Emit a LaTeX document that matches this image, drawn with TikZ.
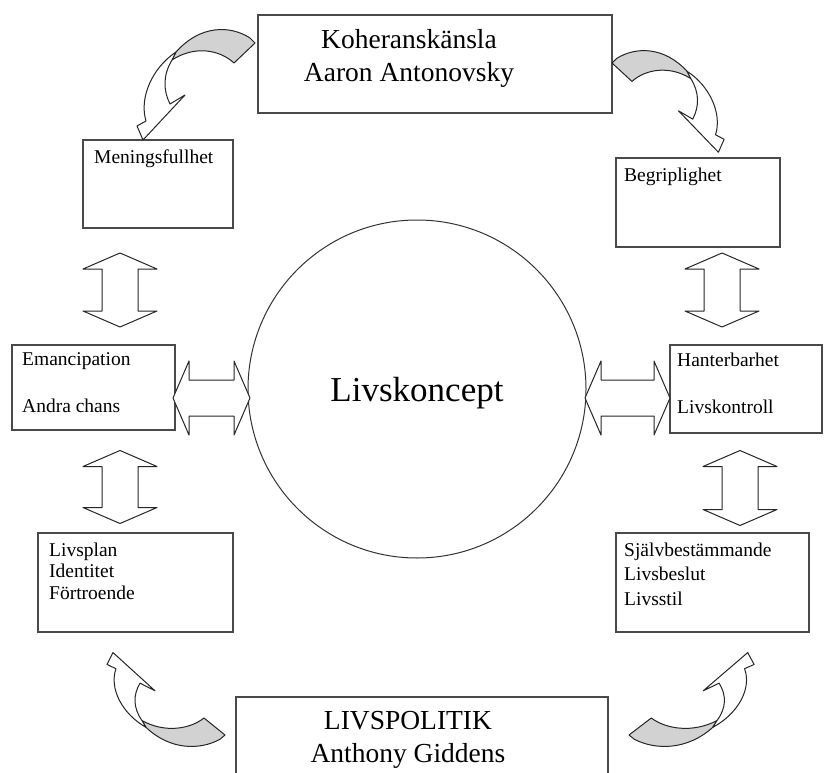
\documentclass[tikz,border=0pt]{standalone}
\usepackage{fontspec}
\setmainfont{Liberation Serif}
\usetikzlibrary{calc}
\definecolor{boxgray}{HTML}{4A4A4A}
\definecolor{ribbongray}{HTML}{D2D2D2}

\tikzset{
  box/.style={draw=boxgray, line width=2pt, fill=white, inner sep=0pt},
  smalltxt/.style={anchor=north west, align=left, inner sep=0pt,
    font=\fontsize{19.5}{23}\selectfont},
  bigtxt/.style={align=center, inner sep=0pt, font=\fontsize{27.5}{33}\selectfont},
  arrline/.style={draw=black!85, line width=1pt, fill=white, line join=round},
  pics/dblarr/.style={code={
    \draw[arrline] (-#1,0) -- ({16-#1},-37) -- ({16-#1},-18) -- ({#1-16},-18)
      -- ({#1-16},-37) -- (#1,0) -- ({#1-16},37) -- ({#1-16},18)
      -- ({16-#1},18) -- ({16-#1},37) -- cycle;}},
  pics/curvarr/.style={code={
    \draw[arrline, fill=ribbongray] (0,0) -- (-5,-5) .. controls (-25,-18) and (-55,-18) .. (-79,9)
      -- (-83,17) .. controls (-60,2) and (-35,7) .. (-21,20) -- cycle;
    \draw[arrline] (-79,9) .. controls (-103,25) and (-116,55) .. (-109,78) -- (-118,83)
      -- (-112,97) -- (-70,52) -- (-85,61) .. controls (-92,47) and (-92,32) .. (-83,17) -- cycle;}}
}

\begin{document}
\begin{tikzpicture}[x=1pt,y=-1pt]
  \useasboundingbox[fill=white] (0,0) rectangle (824,773);

  % boxes
  \node[box, minimum width=354, minimum height=98] (koher) at (435,64) {};
  \node[box, minimum width=372, minimum height=84] (livspol) at (422,739) {};
  \node[box, minimum width=150, minimum height=88] (mening) at (158,184) {};
  \node[box, minimum width=164, minimum height=89] (begrip) at (698,202) {};
  \node[box, minimum width=163, minimum height=85] (emanc) at (93.5,387.5) {};
  \node[box, minimum width=152, minimum height=88] (hanter) at (746,389) {};
  \node[box, minimum width=195, minimum height=99] (livsplan) at (135.5,582.5) {};
  \node[box, minimum width=193, minimum height=99] (sjalv) at (712.5,582.5) {};

  \node[circle, draw=black!80, line width=1pt, minimum size=338, inner sep=0pt,
    text depth=0pt, font=\fontsize{35}{40}\selectfont] (koncept) at (417,389) {Livskoncept};

  % texts
  \node[bigtxt] (kohertxt) at (409,58) {Koheranskänsla\\Aaron Antonovsky};
  \node[bigtxt] (livspoltxt) at (408,740) {LIVSPOLITIK\\Anthony Giddens};
  \node[smalltxt] (meningtxt) at ($(mening.north west)+(12,10.5)$) {Meningsfullhet};
  \node[smalltxt] (begriptxt) at ($(begrip.north west)+(9,11.5)$) {Begriplighet};
  \node[smalltxt] (emanctxt) at ($(emanc.north west)+(11,8.5)$) {Emancipation\\[24pt]Andra chans};
  \node[smalltxt] (hantertxt) at ($(hanter.north west)+(8,8.5)$) {Hanterbarhet\\[24pt]Livskontroll};
  \node[smalltxt, font=\fontsize{19.5}{21.5}\selectfont] (livsplantxt)
    at ($(livsplan.north west)+(12,10.5)$) {Livsplan\\Identitet\\Förtroende};
  \node[smalltxt, font=\fontsize{19.5}{24.5}\selectfont] (sjalvtxt)
    at ($(sjalv.north west)+(9,10.5)$) {Självbestämmande\\Livsbeslut\\Livsstil};

  % double arrows
  \pic[shift={(120,290)}, rotate=90] at (0,0) {dblarr=37};
  \pic[shift={(120,487)}, rotate=90] at (0,0) {dblarr=36.5};
  \pic[shift={(722,290)}, rotate=90] at (0,0) {dblarr=37};
  \pic[shift={(740,488)}, rotate=90] at (0,0) {dblarr=37.5};
  \pic[shift={(211.5,398)}] at (0,0) {dblarr=38.5};
  \pic[shift={(627.5,398)}] at (0,0) {dblarr=42.5};

  % curved arrows
  \pic[shift={(255,43)}] at (0,0) {curvarr};
  \pic[shift={(612,63)}, xscale=-0.95, yscale=0.92] at (0,0) {curvarr};
  \pic[shift={(225,735)}, yscale=-0.85] at (0,0) {curvarr};
  \pic[shift={(629,735)}, xscale=-1.06, yscale=-0.85] at (0,0) {curvarr};
\end{tikzpicture}
\end{document}
